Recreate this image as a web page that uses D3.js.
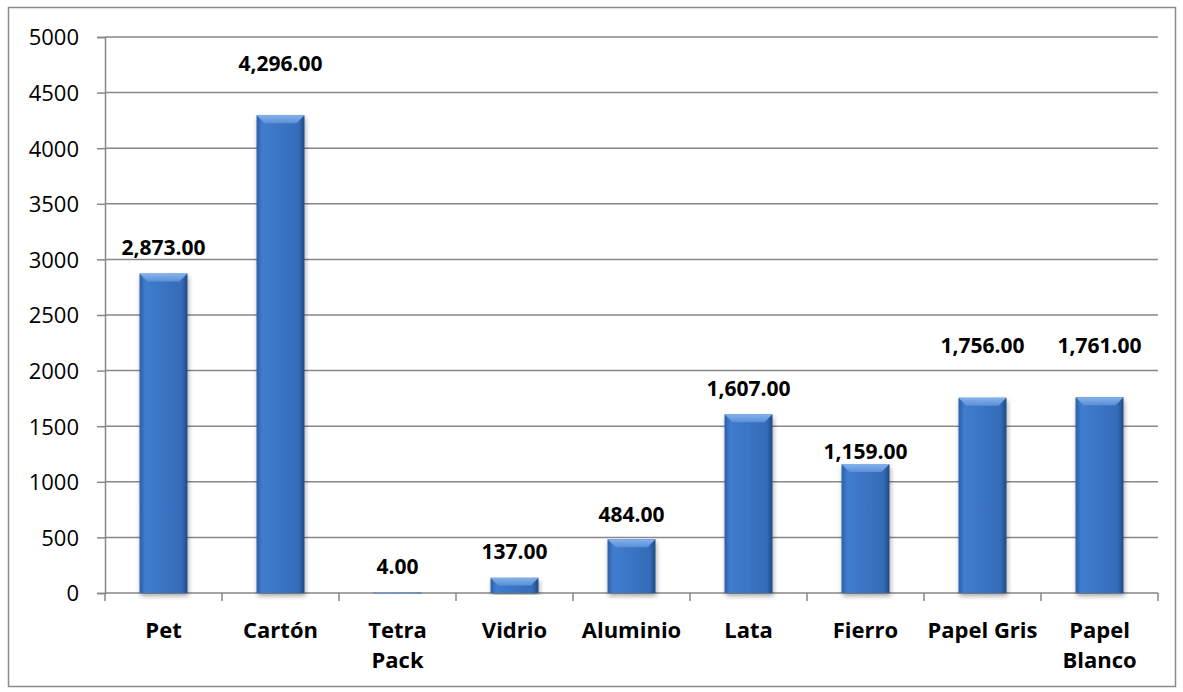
<!DOCTYPE html>
<html>
<head>
<meta charset="utf-8">
<script src="https://cdn.jsdelivr.net/npm/d3@7"></script>
<style>
  body { margin: 0; background: #fff; }
  text { font-family: "Open Sans", sans-serif; fill: #000; }
</style>
</head>
<body>
<script>
// data
var categories = [["Pet"], ["Cartón"], ["Tetra", "Pack"], ["Vidrio"], ["Aluminio"], ["Lata"], ["Fierro"], ["Papel Gris"], ["Papel", "Blanco"]];
var values = [2873, 4296, 4, 137, 484, 1607, 1159, 1756, 1761];
var yTicks = [0, 500, 1000, 1500, 2000, 2500, 3000, 3500, 4000, 4500, 5000];
// how far each value label sits above its bar (px), as placed in the original
var labelLift = [19, 44, 19, 19, 17, 18, 5, 45, 44];

var width = 1183, height = 692;
var plotLeft = 105, plotRight = 1158, plotTop = 37, plotBottom = 593;

var svg = d3.select("body").append("svg")
  .attr("width", width)
  .attr("height", height);

var defs = svg.append("defs");
var g1 = defs.append("linearGradient").attr("id", "barFill").attr("x1", "0").attr("x2", "1").attr("y1", "0").attr("y2", "0");
g1.append("stop").attr("offset", "0%").attr("stop-color", "#2c5ea6");
g1.append("stop").attr("offset", "12%").attr("stop-color", "#3f7dcf");
g1.append("stop").attr("offset", "50%").attr("stop-color", "#3a74c3");
g1.append("stop").attr("offset", "88%").attr("stop-color", "#346cb8");
g1.append("stop").attr("offset", "100%").attr("stop-color", "#1f4883");
var g2 = defs.append("linearGradient").attr("id", "bevelTop").attr("x1", "0").attr("x2", "0").attr("y1", "0").attr("y2", "1");
g2.append("stop").attr("offset", "0%").attr("stop-color", "#86b2ea");
g2.append("stop").attr("offset", "100%").attr("stop-color", "#5a8fd8");
var flt = defs.append("filter").attr("id", "shadow").attr("x", "-20%").attr("y", "-5%").attr("width", "140%").attr("height", "115%");
flt.append("feGaussianBlur").attr("in", "SourceAlpha").attr("stdDeviation", 2.5);
flt.append("feOffset").attr("dx", 1).attr("dy", 3).attr("result", "b");
flt.append("feComponentTransfer").append("feFuncA").attr("type", "linear").attr("slope", 0.35);
var merge = flt.append("feMerge");
merge.append("feMergeNode");
merge.append("feMergeNode").attr("in", "SourceGraphic");

// outer border
svg.append("rect")
  .attr("x", 8.5).attr("y", 7.5).attr("width", 1167).attr("height", 679)
  .attr("fill", "none").attr("stroke", "#8c8c8c").attr("stroke-width", 1.5);

var x = d3.scaleBand().domain(d3.range(categories.length)).range([plotLeft, plotRight]).paddingInner(0).paddingOuter(0);
var y = d3.scaleLinear().domain([0, 5000]).range([plotBottom, plotTop]);

// gridlines
svg.append("g").selectAll("line").data(yTicks.filter(function(d){ return d > 0; })).enter().append("line")
  .attr("x1", plotLeft).attr("x2", plotRight)
  .attr("y1", function(d){ return y(d); }).attr("y2", function(d){ return y(d); })
  .attr("stroke", "#878787").attr("stroke-width", 1.5);

// y axis
var yAxis = svg.append("g").attr("transform", "translate(" + plotLeft + ",0)")
  .call(d3.axisLeft(y).tickValues(yTicks).tickSize(8).tickPadding(18).tickFormat(d3.format("d")));
yAxis.select(".domain").attr("stroke", "#878787").attr("stroke-width", 1.5);
yAxis.selectAll(".tick line").attr("stroke", "#878787").attr("stroke-width", 1.5);
yAxis.selectAll("text").style("font-size", "22px").attr("dy", "0.36em");

// x axis line + ticks at band edges
svg.append("line").attr("x1", plotLeft).attr("x2", plotRight).attr("y1", plotBottom).attr("y2", plotBottom)
  .attr("stroke", "#878787").attr("stroke-width", 1.5);
svg.append("g").selectAll("line").data(d3.range(categories.length + 1)).enter().append("line")
  .attr("x1", function(i){ return plotLeft + i * x.bandwidth(); })
  .attr("x2", function(i){ return plotLeft + i * x.bandwidth(); })
  .attr("y1", plotBottom).attr("y2", plotBottom + 8)
  .attr("stroke", "#878787").attr("stroke-width", 1.5);

// bars
var barW = x.bandwidth() * 0.41;
var bars = svg.append("g").selectAll("g").data(values).enter().append("g")
  .attr("filter", "url(#shadow)");
bars.append("rect")
  .attr("x", function(d, i){ return x(i) + (x.bandwidth() - barW) / 2; })
  .attr("y", function(d){ return y(d); })
  .attr("width", barW)
  .attr("height", function(d){ return Math.max(plotBottom - y(d), 0.8); })
  .attr("fill", "url(#barFill)");
bars.append("path")
  .attr("d", function(d, i){
    var h = plotBottom - y(d);
    var b = Math.min(8, h / 2);
    var x0 = x(i) + (x.bandwidth() - barW) / 2, x1 = x0 + barW, t = y(d);
    return "M" + x0 + "," + t + "L" + x1 + "," + t + "L" + (x1 - b) + "," + (t + b) + "L" + (x0 + b) + "," + (t + b) + "Z";
  })
  .attr("fill", "url(#bevelTop)");

// value labels
svg.append("g").selectAll("text").data(values).enter().append("text")
  .attr("x", function(d, i){ return x(i) + x.bandwidth() / 2; })
  .attr("y", function(d, i){ return y(d) - labelLift[i]; })
  .attr("text-anchor", "middle")
  .style("font-size", "21px").style("font-weight", "bold")
  .text(function(d){ return d3.format(",.2f")(d); });

// category labels
var cat = svg.append("g").selectAll("text").data(categories).enter().append("text")
  .attr("x", function(d, i){ return x(i) + x.bandwidth() / 2; })
  .attr("y", 638)
  .attr("text-anchor", "middle")
  .style("font-size", "22px").style("font-weight", "bold");
cat.selectAll("tspan").data(function(d){ return d; }).enter().append("tspan")
  .attr("x", function(){ return d3.select(this.parentNode).attr("x"); })
  .attr("dy", function(d, j){ return j === 0 ? 0 : 30; })
  .text(function(d){ return d; });
</script>
</body>
</html>
